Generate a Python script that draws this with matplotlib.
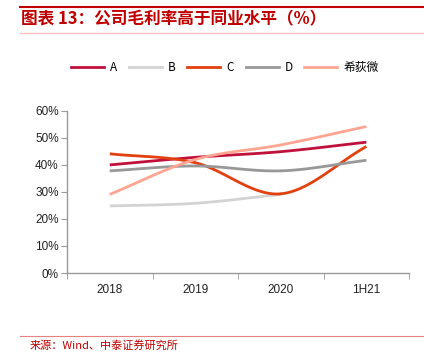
import numpy as np
import matplotlib
matplotlib.use("Agg")
import matplotlib.pyplot as plt
from matplotlib.lines import Line2D

plt.rcParams['font.family'] = ['Noto Sans CJK SC', 'DejaVu Sans']

categories = ["2018", "2019", "2020", "1H21"]
series_names = ["A", "B", "C", "D", "希荻微"]
A = [0.400, 0.428, 0.449, 0.484]
B = [0.248, 0.258, 0.291, None]
C = [0.441, 0.408, 0.293, 0.468]
D = [0.378, 0.396, 0.378, 0.417]
XHW = [0.291, 0.420, 0.474, 0.542]
colors = ["#C0103C", "#D3D3D3", "#E2400E", "#989898", "#FFA592"]
title = "图表 13：公司毛利率高于同业水平（%）"
source = "来源：Wind、中泰证券研究所"


def smooth(xs, ys, n=40):
    # Catmull-Rom spline through points (Excel-style smoothed line)
    xs = np.asarray(xs, float); ys = np.asarray(ys, float)
    px = np.concatenate([[2*xs[0]-xs[1]], xs, [2*xs[-1]-xs[-2]]])
    py = np.concatenate([[2*ys[0]-ys[1]], ys, [2*ys[-1]-ys[-2]]])
    ox, oy = [], []
    for i in range(1, len(px)-2):
        t = np.linspace(0, 1, n)
        p0, p1, p2, p3 = py[i-1], py[i], py[i+1], py[i+2]
        q0, q1, q2, q3 = px[i-1], px[i], px[i+1], px[i+2]
        f = lambda a, b, c, d: 0.5*((2*b) + (-a+c)*t + (2*a-5*b+4*c-d)*t**2 + (-a+3*b-3*c+d)*t**3)
        ox.append(f(q0, q1, q2, q3)); oy.append(f(p0, p1, p2, p3))
    return np.concatenate(ox), np.concatenate(oy)


fig = plt.figure(figsize=(4.24, 3.53), dpi=100)
ax = fig.add_axes([0.158, 0.2266, 0.807, 0.4594])

x = np.arange(len(categories))
for name, vals, col in zip(series_names, [A, B, C, D, XHW], colors):
    xv = [xi for xi, v in zip(x, vals) if v is not None]
    yv = [v for v in vals if v is not None]
    sx, sy = smooth(xv, yv)
    ax.plot(sx, sy, color=col, lw=2.0, solid_capstyle='butt')

ax.set_xlim(-0.5, len(categories)-0.5)
ax.set_ylim(0, 0.6)
ax.set_yticks(np.arange(0, 0.61, 0.1))
ax.set_yticklabels([f"{int(round(v*100))}%" for v in np.arange(0, 0.61, 0.1)],
                   family=['Liberation Sans'], fontsize=8.5, color='#222222')
ax.set_xticks(x)
ax.set_xticklabels(categories, family=['Liberation Sans'], fontsize=8.5, color='#222222')
ax.set_xticks(np.arange(-0.5, len(categories), 1), minor=True)
ax.tick_params(axis='x', which='major', length=0, pad=8)
ax.tick_params(axis='x', which='minor', length=4, color='#999999', direction='out')
ax.tick_params(axis='y', length=4, color='#999999', direction='out', pad=2)
for s in ['top', 'right']:
    ax.spines[s].set_visible(False)
for s in ['left', 'bottom']:
    ax.spines[s].set_color('#999999')
    ax.spines[s].set_linewidth(1.0)

handles = [Line2D([0], [0], color=c, lw=2) for c in colors]
fig.legend(handles, series_names, loc='center', bbox_to_anchor=(0.53, 0.808),
           ncol=5, frameon=False, fontsize=8.5, handlelength=2.8, handletextpad=0.5,
           columnspacing=1.0)

# header lines and title
fig.add_artist(Line2D([0.047, 1.0], [0.981, 0.981], color='#C00000', lw=1.5))
fig.add_artist(Line2D([0.047, 1.0], [0.907, 0.907], color='#F4C0C0', lw=1.0))
fig.text(0.05, 0.944, title, color='#C00000', fontsize=12, fontweight='bold',
         style='italic', va='center', ha='left')

# footer
fig.add_artist(Line2D([0.047, 1.0], [0.048, 0.048], color='#E88080', lw=0.8))
fig.text(0.07, 0.005, source, color='#C00000', fontsize=8, va='bottom', ha='left')

fig.savefig("out.png", dpi=100)
